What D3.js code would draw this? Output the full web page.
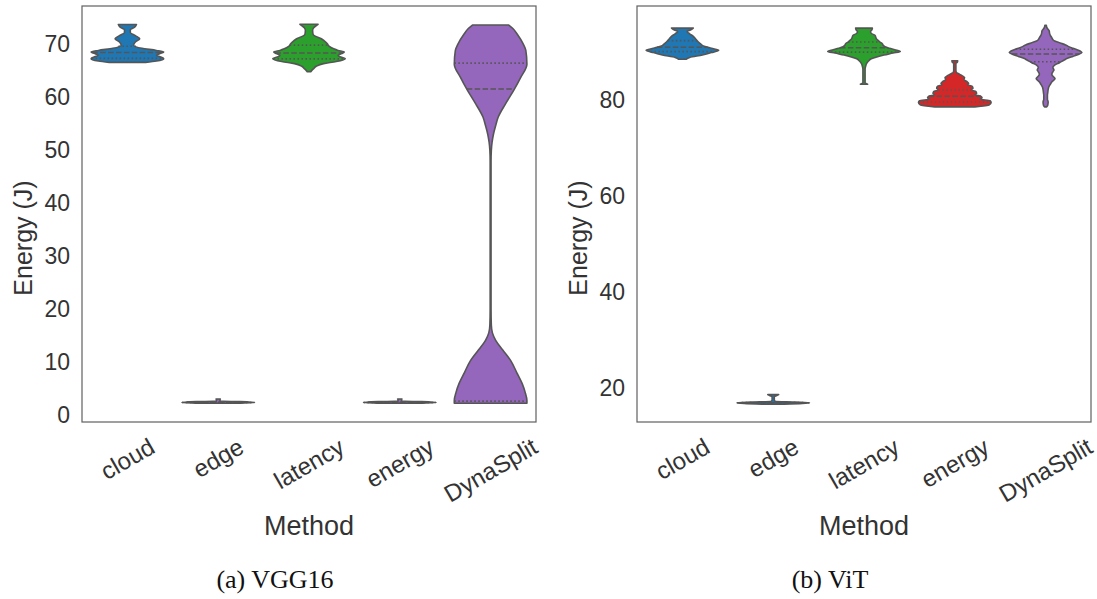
<!DOCTYPE html>
<html>
<head>
<meta charset="utf-8">
<script src="https://d3js.org/d3.v7.min.js"></script>
<style>
    body { margin: 0; background: #fff; }
    svg { display: block; }
    text { font-family: "Liberation Sans", Arial, sans-serif; fill: #333; }
    .caption { font-family: "Liberation Serif", "DejaVu Serif", serif; fill: #111; }
</style>
</head>
<body>
<div id="chart"></div>
<script>
"use strict"

//----------------------------DATA------------------------------//
const methods = ["cloud", "edge", "latency", "energy", "DynaSplit"];

// violin outlines: [energy (J), relative half width]
const vggShapes = [
    [[66.65, 0.5], [66.9, 0.8], [67.35, 1.0], [67.7, 0.9], [68.0, 0.8], [68.3, 0.9], [68.6, 1.0], [68.9, 0.8],
     [69.3, 0.4], [69.9, 0.17], [70.5, 0.22], [71.1, 0.34], [71.7, 0.22], [72.3, 0.08], [72.8, 0.08], [73.3, 0.2], [73.8, 0.25]],
    [[2.2, 0.5], [2.35, 1.0], [2.5, 0.6], [2.6, 0.05], [2.9, 0.05], [3.0, 0.06]],
    [[64.9, 0.05], [65.4, 0.12], [65.9, 0.2], [66.4, 0.4], [66.8, 0.75], [67.35, 1.0], [67.7, 0.85], [68.0, 0.8],
     [68.3, 0.9], [68.6, 0.97], [68.9, 0.8], [69.2, 0.68], [69.7, 0.55], [70.2, 0.5], [70.7, 0.42], [71.1, 0.34],
     [71.6, 0.17], [72.0, 0.11], [72.7, 0.1], [73.2, 0.13], [73.6, 0.2], [73.85, 0.25]],
    [[2.2, 0.5], [2.35, 1.0], [2.5, 0.6], [2.6, 0.05], [2.9, 0.05], [3.0, 0.06]],
    [[2.2, 1.0], [2.7, 1.0], [4.3, 0.95], [5.9, 0.87], [8.0, 0.72], [10.3, 0.55], [12.3, 0.33], [14.1, 0.14],
     [15.5, 0.05], [17.0, 0.02], [20.0, 0.012], [48.0, 0.012], [50.0, 0.02], [51.5, 0.04], [53.1, 0.08], [54.7, 0.14],
     [56.3, 0.21], [58.8, 0.41], [61.4, 0.64], [63.8, 0.83], [66.3, 1.0], [68.9, 0.97], [70.1, 0.9], [72.0, 0.73],
     [73.0, 0.62], [73.7, 0.5]]
];
const vitShapes = [
    [[88.5, 0.1], [88.9, 0.2], [89.4, 0.55], [89.9, 0.8], [90.4, 1.0], [90.8, 0.8], [91.2, 0.6], [91.7, 0.5],
     [92.1, 0.44], [92.5, 0.39], [92.9, 0.35], [93.3, 0.3], [93.8, 0.2], [94.3, 0.13], [94.6, 0.22], [95.0, 0.3]],
    [[16.7, 0.3], [16.85, 0.8], [17.0, 1.0], [17.15, 0.6], [17.3, 0.06], [17.6, 0.03], [18.3, 0.03], [18.5, 0.1], [18.7, 0.15]],
    [[83.3, 0.1], [83.6, 0.03], [86.5, 0.03], [87.2, 0.05], [87.6, 0.07], [88.1, 0.12], [88.6, 0.2], [89.0, 0.35],
     [89.4, 0.55], [89.8, 0.8], [90.15, 1.0], [90.5, 0.85], [90.8, 0.7], [91.1, 0.58], [91.4, 0.53], [91.8, 0.5],
     [92.1, 0.44], [92.5, 0.38], [92.8, 0.34], [93.2, 0.32], [93.5, 0.3], [93.9, 0.2], [94.3, 0.18], [94.7, 0.22], [95.0, 0.23]],
    [[78.6, 0.55], [79.0, 0.95], [79.5, 1.0], [79.9, 0.97], [80.2, 0.7], [80.5, 0.75], [80.8, 0.72], [81.1, 0.55],
     [81.4, 0.6], [81.8, 0.58], [82.1, 0.45], [82.5, 0.5], [82.9, 0.47], [83.2, 0.35], [83.5, 0.38], [83.9, 0.33],
     [84.3, 0.25], [84.7, 0.27], [85.1, 0.2], [85.5, 0.1], [85.8, 0.04], [86.2, 0.03], [87.7, 0.03], [87.9, 0.07], [88.2, 0.08]],
    [[78.6, 0.03], [79.0, 0.06], [79.6, 0.07], [80.2, 0.05], [81.0, 0.05], [81.6, 0.06], [82.2, 0.07], [82.8, 0.09],
     [83.3, 0.13], [83.8, 0.17], [84.5, 0.26], [85.0, 0.2], [85.4, 0.17], [85.9, 0.2], [86.3, 0.23], [86.8, 0.2],
     [87.3, 0.25], [87.8, 0.38], [88.3, 0.5], [88.7, 0.6], [89.1, 0.75], [89.5, 0.9], [89.9, 1.0], [90.4, 0.9],
     [90.8, 0.75], [91.2, 0.62], [91.5, 0.55], [91.9, 0.4], [92.3, 0.25], [92.6, 0.2], [93.0, 0.17], [93.5, 0.13],
     [93.9, 0.11], [94.4, 0.1], [94.8, 0.06], [95.2, 0.03], [95.6, 0.02]]
];

// [q1, median, q3]
const vggQuartiles = [[67.4, 68.5, 69.7], [2.35, 2.4, 2.45], [67.3, 68.4, 69.9], [2.35, 2.4, 2.45], [2.6, 61.6, 66.5]];
const vitQuartiles = [[90.1, 91.0, 92.4], [16.95, 17.0, 17.05], [90.0, 90.9, 92.1], [79.6, 80.8, 82.1], [88.0, 89.6, 90.6]];

const vggTicks = [0, 10, 20, 30, 40, 50, 60, 70];
const vitTicks = [20, 40, 60, 80];

const palette = ["#1f77b4", "#1f77b4", "#2ca02c", "#d62728", "#9467bd"];
const edgeGray = "#555555";

//----------------------------SETUP-----------------------------//
const W = 1097, H = 599;
const svg = d3.select("#chart").append("svg")
    .attr("width", W)
    .attr("height", H)
    .attr("viewBox", `0 0 ${W} ${H}`);

// linear lookup of the outline width at a value (for quartile lines)
const widthAt = (profile, v) => {
    for (let i = 0; i < profile.length - 1; i++) {
        const [a, wa] = profile[i];
        const [b, wb] = profile[i + 1];
        if (v >= a && v <= b) return wa + (wb - wa) * (v - a) / (b - a);
    }
    return v < profile[0][0] ? profile[0][1] : profile[profile.length - 1][1];
};

//---------------------------PANEL------------------------------//
const drawPanel = (cfg) => {
    const { left, right, top, bottom, domain, ticks, shapes, quartiles, caption, ylabelX, colors } = cfg;
    const g = svg.append("g");

    const x = d3.scaleBand().domain(methods).range([left, right]);
    const y = d3.scaleLinear().domain(domain).range([bottom, top]);
    const halfW = x.bandwidth() * 0.8 / 2;

    // violins
    methods.forEach((m, i) => {
        const cx = x(m) + x.bandwidth() / 2;
        const profile = shapes[i];
        const pts = profile.slice().reverse();
        const area = d3.area()
            .curve(d3.curveMonotoneY)
            .y(d => y(d[0]))
            .x0(d => cx - d[1] * halfW)
            .x1(d => cx + d[1] * halfW);

        g.append("path")
            .attr("d", area(pts))
            .attr("fill", colors[i])
            .attr("stroke", edgeGray)
            .attr("stroke-width", 1.6)
            .attr("stroke-linejoin", "round");

        // quartile lines: dotted q1/q3, dashed median
        quartiles[i].forEach((q, k) => {
            const w = widthAt(profile, q) * halfW;
            g.append("line")
                .attr("x1", cx - w).attr("x2", cx + w)
                .attr("y1", y(q)).attr("y2", y(q))
                .attr("stroke", edgeGray)
                .attr("stroke-width", 1.6)
                .attr("stroke-dasharray", k === 1 ? "5.5,2.4" : "1.5,2.5");
        });
    });

    // frame
    g.append("rect")
        .attr("x", left).attr("y", top)
        .attr("width", right - left).attr("height", bottom - top)
        .attr("fill", "none")
        .attr("stroke", "#666")
        .attr("stroke-width", 1.25);

    // y axis
    const yaxis = g.append("g")
        .attr("transform", `translate(${left},0)`)
        .call(d3.axisLeft(y).tickValues(ticks).tickSize(0).tickPadding(12));
    yaxis.select(".domain").remove();
    yaxis.selectAll("text")
        .style("font-size", "23px")
        .style("fill", "#333");

    // x axis, labels rotated 30deg and centred under the tick
    const xaxis = g.append("g")
        .attr("transform", `translate(0,${bottom})`)
        .call(d3.axisBottom(x).tickSize(0));
    xaxis.select(".domain").remove();
    xaxis.selectAll("text")
        .style("font-size", "24px")
        .style("fill", "#333")
        .attr("y", 0).attr("dy", null)
        .attr("text-anchor", "middle")
        .attr("dominant-baseline", "central")
        .attr("transform", function () {
            const w = this.getComputedTextLength();
            const h = 24;
            const cy = 12 + (w * 0.5 + h * 0.866) / 2;
            return `translate(0,${cy}) rotate(-30)`;
        });

    // axis titles
    g.append("text")
        .attr("transform", `translate(${ylabelX},238) rotate(-90)`)
        .attr("text-anchor", "middle")
        .attr("dominant-baseline", "central")
        .style("font-size", "25px")
        .text("Energy (J)");

    g.append("text")
        .attr("x", (left + right) / 2)
        .attr("y", 535)
        .attr("text-anchor", "middle")
        .style("font-size", "27px")
        .text("Method");

    g.append("text")
        .attr("class", "caption")
        .attr("x", cfg.captionX)
        .attr("y", 588)
        .attr("text-anchor", "middle")
        .style("font-size", "26px")
        .text(caption);
};

//---------------------------DRAW-------------------------------//
drawPanel({
    left: 82, right: 536, top: 6, bottom: 422,
    domain: [-1.35, 77.3], ticks: vggTicks,
    shapes: vggShapes, quartiles: vggQuartiles,
    colors: palette.map((c, i) => i === 1 || i === 3 ? "#9467bd" : c),
    ylabelX: 23, caption: "(a) VGG16", captionX: 275
});
drawPanel({
    left: 637, right: 1091, top: 6, bottom: 422,
    domain: [13.0, 99.6], ticks: vitTicks,
    shapes: vitShapes, quartiles: vitQuartiles,
    colors: palette,
    ylabelX: 578, caption: "(b) ViT", captionX: 830
});
</script>
</body>
</html>
